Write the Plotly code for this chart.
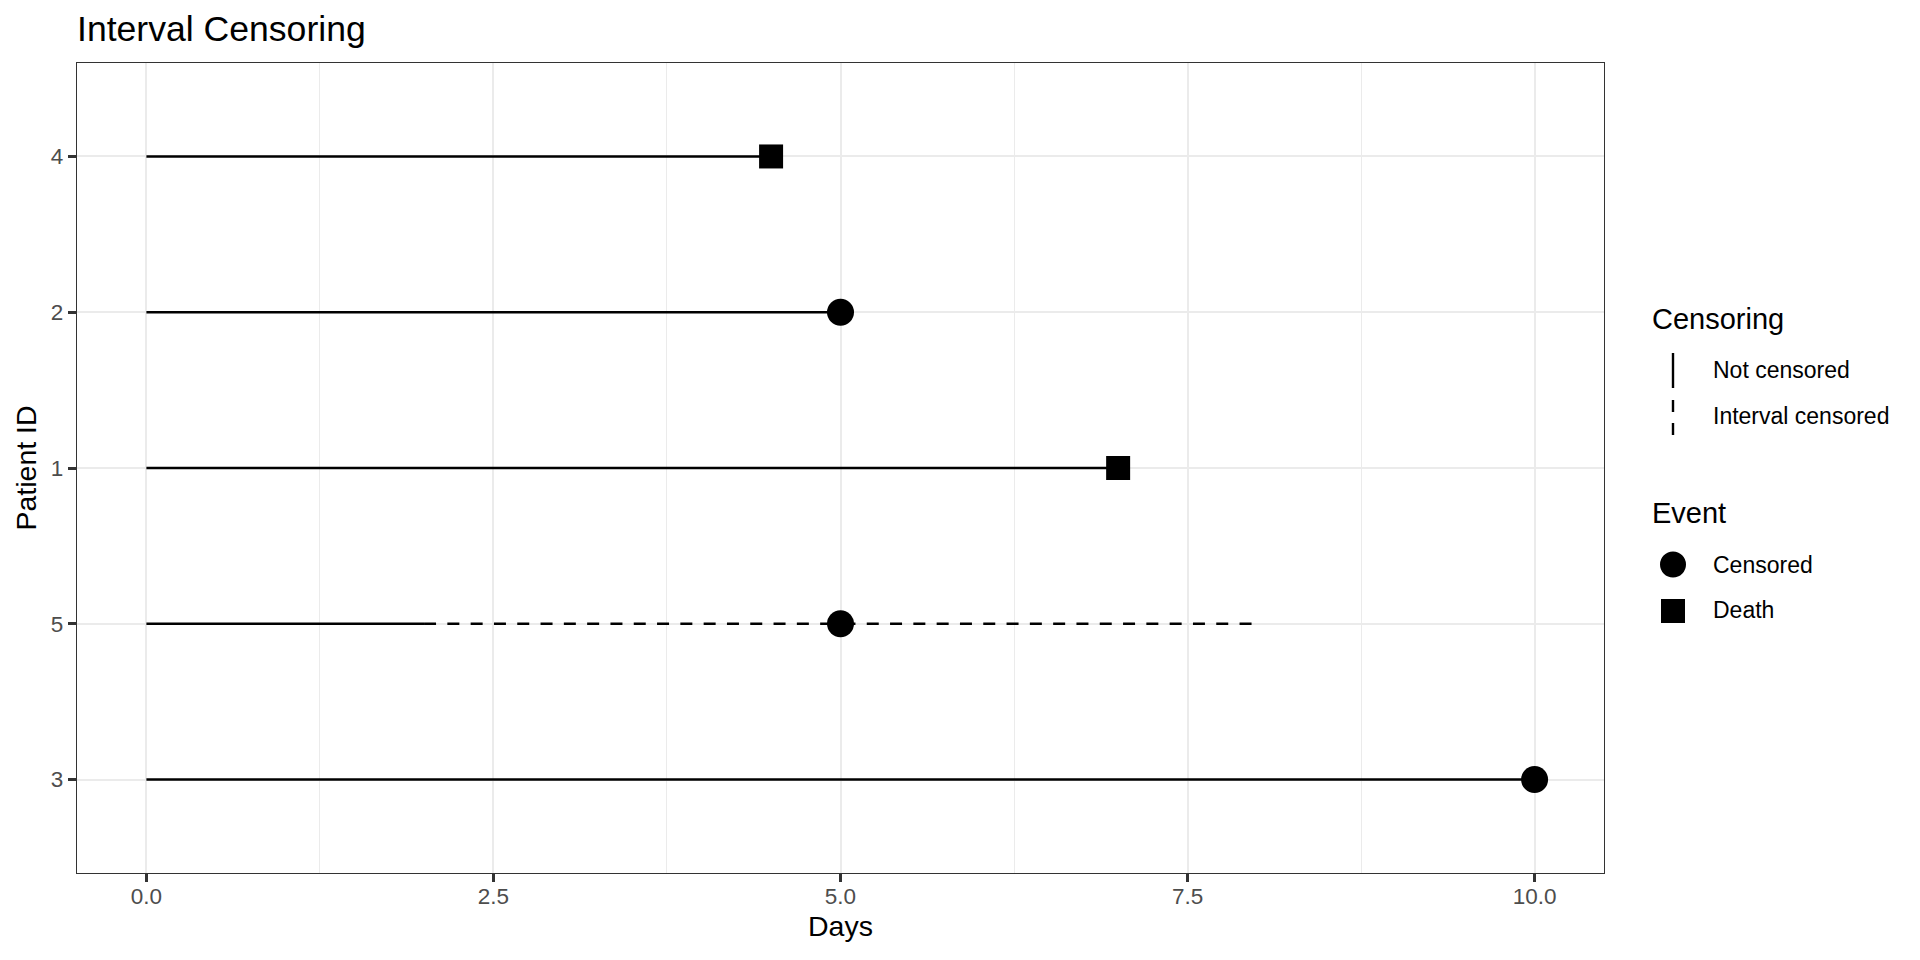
import plotly.graph_objects as go

# ---------------- data ----------------
patients = ["4", "2", "1", "5", "3"]
start_day = [0, 0, 0, 0, 0]
solid_end = [4.5, 5, 7, 2, 10]              # end of observed (solid) segment
interval_end = [None, None, None, 8, None]  # end of interval-censored (dashed) segment
event_day = [4.5, 5, 7, 5, 10]
event_type = ["Death", "Censored", "Death", "Censored", "Censored"]
censoring = ["Not censored", "Not censored", "Not censored", "Interval censored", "Not censored"]

category_order = ["3", "5", "1", "2", "4"]  # bottom -> top
x_ticks = [0, 2.5, 5, 7.5, 10]
x_tick_labels = ["0.0", "2.5", "5.0", "7.5", "10.0"]
x_minor = [1.25, 3.75, 6.25, 8.75]

FONT = "Liberation Sans, Arial, Helvetica, sans-serif"
O = 8                      # default body margin of the html page
W, H = 1920 - 2 * O, 960 - 2 * O
# plot area in page pixels
PL, PR, PT, PB = 77, 1604, 63, 873
L, R, T, B = PL - O, PR - O, PT - O, PB - O


def xp(px):  # page px -> paper
    return (px - O - L) / (R - L)


def yp(py):
    return (B - (py - O)) / (B - T)


fig = go.Figure()

# solid (observed) segments
sx, sy = [], []
for p, s, e in zip(patients, start_day, solid_end):
    sx += [s, e, None]
    sy += [p, p, None]
fig.add_trace(go.Scatter(x=sx, y=sy, mode="lines", line=dict(color="black", width=2.4),
                         showlegend=False, hoverinfo="skip"))

# dashed (interval) segments
for p, s, e in zip(patients, solid_end, interval_end):
    if e is not None:
        fig.add_trace(go.Scatter(x=[s, e], y=[p, p], mode="lines",
                                 line=dict(color="black", width=2.4, dash="12px,11.3px"),
                                 showlegend=False, hoverinfo="skip"))

# event markers
sym_map = {"Censored": "circle", "Death": "square"}
size_map = {"Censored": 27, "Death": 24}
fig.add_trace(go.Scatter(
    x=event_day, y=patients, mode="markers",
    marker=dict(color="black", opacity=1, symbol=[sym_map[e] for e in event_type],
                size=[size_map[e] for e in event_type], line=dict(width=0)),
    showlegend=False,
))

# ---------------- manual legend ----------------
shapes = []
annotations = []
kx = 1673
TXT_X = 1711
annotations.append(dict(text="Censoring", x=xp(1650), y=yp(319), xref="paper", yref="paper",
                        xanchor="left", yanchor="middle", showarrow=False,
                        font=dict(family=FONT, size=29, color="black")))
shapes.append(dict(type="line", xref="paper", yref="paper", x0=xp(kx), x1=xp(kx),
                   y0=yp(353), y1=yp(388), line=dict(color="black", width=2.4)))
shapes.append(dict(type="line", xref="paper", yref="paper", x0=xp(kx), x1=xp(kx),
                   y0=yp(400), y1=yp(436), line=dict(color="black", width=2.4, dash="12px,11px")))
for txt, yy in [("Not censored", 370), ("Interval censored", 416)]:
    annotations.append(dict(text=txt, x=xp(TXT_X), y=yp(yy), xref="paper", yref="paper",
                            xanchor="left", yanchor="middle", showarrow=False,
                            font=dict(family=FONT, size=23, color="black")))
annotations.append(dict(text="Event", x=xp(1650), y=yp(513), xref="paper", yref="paper",
                        xanchor="left", yanchor="middle", showarrow=False,
                        font=dict(family=FONT, size=29, color="black")))
shapes.append(dict(type="circle", xref="paper", yref="paper", x0=xp(kx - 13), x1=xp(kx + 13),
                   y0=yp(564.5 + 13), y1=yp(564.5 - 13), fillcolor="black", line=dict(width=0)))
shapes.append(dict(type="rect", xref="paper", yref="paper", x0=xp(kx - 12), x1=xp(kx + 12),
                   y0=yp(611 + 12), y1=yp(611 - 12), fillcolor="black", line=dict(width=0)))
for txt, yy in [("Censored", 564.5), ("Death", 610)]:
    annotations.append(dict(text=txt, x=xp(TXT_X), y=yp(yy), xref="paper", yref="paper",
                            xanchor="left", yanchor="middle", showarrow=False,
                            font=dict(family=FONT, size=23, color="black")))

fig.update_layout(
    width=W, height=H,
    margin=dict(l=L, r=W - R, t=T, b=H - B, autoexpand=False),
    paper_bgcolor="white", plot_bgcolor="white",
    font=dict(family=FONT, color="black"),
    title=dict(text="Interval Censoring", x=xp(77), xref="paper", xanchor="left",
               y=1 - (29 - O) / H, yref="container", yanchor="middle",
               font=dict(family=FONT, size=35.6, color="black")),
    showlegend=False,
    shapes=shapes,
    annotations=annotations,
    xaxis=dict(
        range=[-0.5, 10.5], tickvals=x_ticks, ticktext=x_tick_labels,
        showgrid=True, gridcolor="#EBEBEB", gridwidth=2.4, zeroline=False,
        minor=dict(tickvals=x_minor, showgrid=True, gridcolor="#EBEBEB", gridwidth=1.2, ticks=""),
        ticks="outside", ticklen=8, tickwidth=2.5, tickcolor="#333333",
        ticklabelstandoff=-5,
        tickfont=dict(family=FONT, size=22.5, color="#4D4D4D"),
        showline=True, mirror=True, linecolor="#333333", linewidth=1.3,
        title=dict(text="Days", font=dict(family=FONT, size=28.5, color="black"), standoff=7),
        automargin=False,
    ),
    yaxis=dict(
        type="category", categoryorder="array", categoryarray=category_order,
        range=[-0.6, 4.6],
        showgrid=True, gridcolor="#EBEBEB", gridwidth=2.4, zeroline=False,
        ticks="outside", ticklen=8, tickwidth=2.5, tickcolor="#333333",
        tickfont=dict(family=FONT, size=22.5, color="#4D4D4D"),
        showline=True, mirror=True, linecolor="#333333", linewidth=1.3,
        title=dict(text="Patient ID", font=dict(family=FONT, size=28.5, color="black"), standoff=5),
        automargin=False,
    ),
)

fig.write_html("out.html")
